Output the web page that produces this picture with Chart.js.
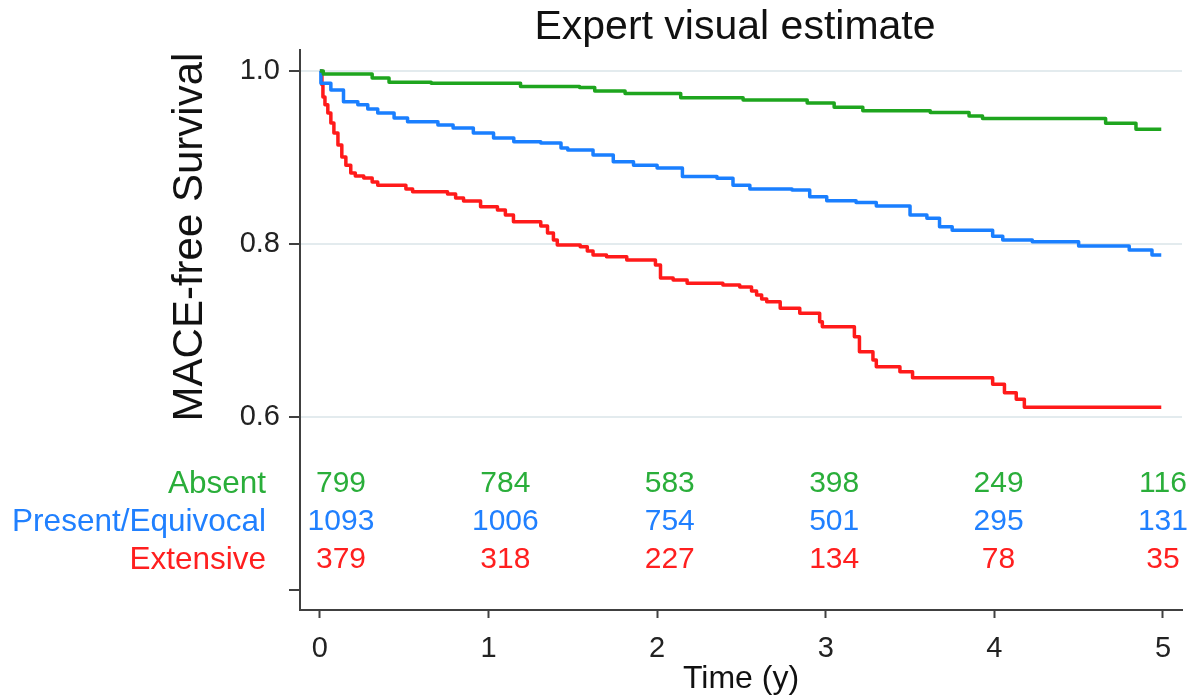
<!DOCTYPE html>
<html>
<head>
<meta charset="utf-8">
<script src="https://cdn.jsdelivr.net/npm/chart.js@4/dist/chart.umd.min.js"></script>
<style>
html,body{margin:0;padding:0;background:#fff;}
#wrap{width:1198px;height:700px;position:relative;}
</style>
</head>
<body>
<div id="wrap"><canvas id="c" width="1198" height="700"></canvas></div>
<script>
// ---- data ----
const years = [0, 1, 2, 3, 4, 5];
const yTickValues = [0.4, 0.6, 0.8, 1.0];
const groupNames = ["Absent", "Present/Equivocal", "Extensive"];

const absentT = [0, 0.02, 0.31, 0.41, 0.66, 1.19, 1.54, 1.63, 1.81, 2.14, 2.51, 2.89, 3.05, 3.22, 3.62, 3.85, 3.93, 4.66, 4.84, 4.99];
const absentS = [1.0, 0.9965, 0.992, 0.987, 0.986, 0.982, 0.981, 0.977, 0.974, 0.969, 0.9665, 0.963, 0.958, 0.954, 0.952, 0.948, 0.945, 0.9395, 0.9326, 0.9326];

const presentT = [0, 0.006, 0.065, 0.14, 0.225, 0.284, 0.343, 0.44, 0.52, 0.70, 0.79, 0.91, 1.03, 1.15, 1.31, 1.43, 1.47, 1.62, 1.74, 1.86, 2.0, 2.15, 2.355, 2.45, 2.55, 2.80, 2.905, 3.006, 3.18, 3.30, 3.50, 3.60, 3.675, 3.75, 3.99, 4.05, 4.225, 4.50, 4.80, 4.935, 4.99];
const presentS = [1.0, 0.986, 0.978, 0.9645, 0.961, 0.956, 0.9514, 0.9457, 0.9414, 0.9376, 0.934, 0.9283, 0.9225, 0.9183, 0.9168, 0.911, 0.9087, 0.903, 0.895, 0.891, 0.888, 0.878, 0.876, 0.868, 0.8636, 0.8624, 0.8547, 0.850, 0.848, 0.844, 0.8335, 0.8297, 0.820, 0.816, 0.809, 0.8046, 0.8027, 0.7977, 0.793, 0.7873, 0.7873];

const extensiveT = [0, 0.012, 0.018, 0.03, 0.047, 0.065, 0.083, 0.107, 0.13, 0.154, 0.183, 0.21, 0.26, 0.31, 0.343, 0.51, 0.55, 0.757, 0.805, 0.852, 0.953, 1.053, 1.10, 1.148, 1.31, 1.35, 1.385, 1.408, 1.544, 1.586, 1.62, 1.70, 1.82, 1.99, 2.02, 2.095, 2.178, 2.39, 2.49, 2.56, 2.59, 2.62, 2.65, 2.73, 2.846, 2.964, 2.98, 3.17, 3.20, 3.28, 3.30, 3.44, 3.515, 3.99, 4.06, 4.13, 4.178, 4.99];
const extensiveS = [1.0, 0.984, 0.970, 0.961, 0.9514, 0.940, 0.9283, 0.9145, 0.9006, 0.891, 0.882, 0.8786, 0.8763, 0.8717, 0.868, 0.8636, 0.8605, 0.8578, 0.8532, 0.8497, 0.843, 0.8393, 0.8335, 0.8258, 0.8208, 0.8127, 0.8046, 0.7988, 0.7969, 0.792, 0.7873, 0.7853, 0.7815, 0.7757, 0.7607, 0.7584, 0.7546, 0.7526, 0.7503, 0.7457, 0.741, 0.7364, 0.7333, 0.7257, 0.7199, 0.7102, 0.7044, 0.6928, 0.6755, 0.666, 0.658, 0.6524, 0.6454, 0.6378, 0.628, 0.6205, 0.6112, 0.6112];

const absentRisk = [799, 784, 583, 398, 249, 116];
const presentRisk = [1093, 1006, 754, 501, 295, 131];
const extensiveRisk = [379, 318, 227, 134, 78, 35];

// ---- styles ----
const FONT = "'Liberation Sans', Arial, sans-serif";
const lineColors = ['#1ea51e', '#1a7fff', '#ff1a1a'];
const textColors = ['#2aae3a', '#2080ff', '#ff1f1f'];
const axisColor = '#404040';

function pts(T, S) { return T.map((t, i) => ({x: t, y: S[i]})); }

const riskRows = [absentRisk, presentRisk, extensiveRisk];

const annot = {
  id: 'annot',
  afterDraw(chart) {
    const ctx = chart.ctx;
    const xs = chart.scales.x, ys = chart.scales.y;
    const ca = chart.chartArea;
    ctx.save();
    // title
    ctx.fillStyle = '#111';
    ctx.font = '41px ' + FONT;
    ctx.textAlign = 'center';
    ctx.textBaseline = 'middle';
    ctx.fillText('Expert visual estimate', (ca.left + ca.right) / 2 - 6, 28);
    // x title
    ctx.font = '32px ' + FONT;
    ctx.fillText('Time (y)', (ca.left + ca.right) / 2, ca.bottom + 69);
    // y title
    ctx.save();
    ctx.font = '42px ' + FONT;
    ctx.translate(ca.left - 110, ys.getPixelForValue(0.8) - 7);
    ctx.rotate(-Math.PI / 2);
    ctx.fillText('MACE-free Survival', 0, 0);
    ctx.restore();
    // numbers at risk
    const baseY = ys.getPixelForValue(0.6) + 67;
    riskRows.forEach((row, r) => {
      const y = baseY + r * 38;
      ctx.fillStyle = textColors[r];
      ctx.font = '31.5px ' + FONT;
      ctx.textAlign = 'right';
      ctx.fillText(groupNames[r], ca.left - 34, y);
      ctx.font = '30px ' + FONT;
      ctx.textAlign = 'center';
      row.forEach((n, i) => {
        const px = xs.getPixelForValue(0.125 + years[i] * 0.975);
        ctx.fillText(String(n), px, y);
      });
    });
    ctx.restore();
  }
};

new Chart(document.getElementById('c'), {
  type: 'line',
  data: {
    datasets: [
      {label: groupNames[0], data: pts(absentT, absentS), borderColor: lineColors[0]},
      {label: groupNames[1], data: pts(presentT, presentS), borderColor: lineColors[1]},
      {label: groupNames[2], data: pts(extensiveT, extensiveS), borderColor: lineColors[2]}
    ]
  },
  options: {
    responsive: false,
    animation: false,
    parsing: false,
    layout: {padding: {top: 50, right: 16, left: 0, bottom: 0}},
    elements: {
      line: {borderWidth: 3.5, stepped: 'before', tension: 0, fill: false, borderJoinStyle: 'round'},
      point: {radius: 0, hoverRadius: 0}
    },
    plugins: {legend: {display: false}, tooltip: {enabled: false}, title: {display: false}},
    scales: {
      x: {
        type: 'linear',
        min: -0.118,
        max: 5.113,
        afterBuildTicks(s) { s.ticks = years.map(v => ({value: v})); },
        afterFit(s) { s.height = 90; },
        border: {display: true, color: axisColor, width: 2},
        grid: {drawOnChartArea: false, drawTicks: true, tickLength: 8, tickColor: axisColor, tickWidth: 2},
        ticks: {font: {family: FONT, size: 29}, color: '#222', padding: 14, maxRotation: 0,
                callback: v => String(v)}
      },
      y: {
        type: 'linear',
        min: 0.3769,
        max: 1.0243,
        afterBuildTicks(s) { s.ticks = yTickValues.map(v => ({value: v})); },
        afterFit(s) { s.width = 300; },
        border: {display: true, color: axisColor, width: 2},
        grid: {
          drawOnChartArea: true,
          color: c => (c.tick && Math.abs(c.tick.value - 0.4) < 1e-6) ? 'rgba(0,0,0,0)' : '#e3ebee',
          lineWidth: 2,
          drawTicks: true, tickLength: 11, tickColor: axisColor, tickWidth: 2
        },
        ticks: {font: {family: FONT, size: 29}, color: '#222', padding: 9,
                callback: v => Math.abs(v - 0.4) < 1e-6 ? '' : v.toFixed(1)}
      }
    }
  },
  plugins: [annot]
});
</script>
</body>
</html>
